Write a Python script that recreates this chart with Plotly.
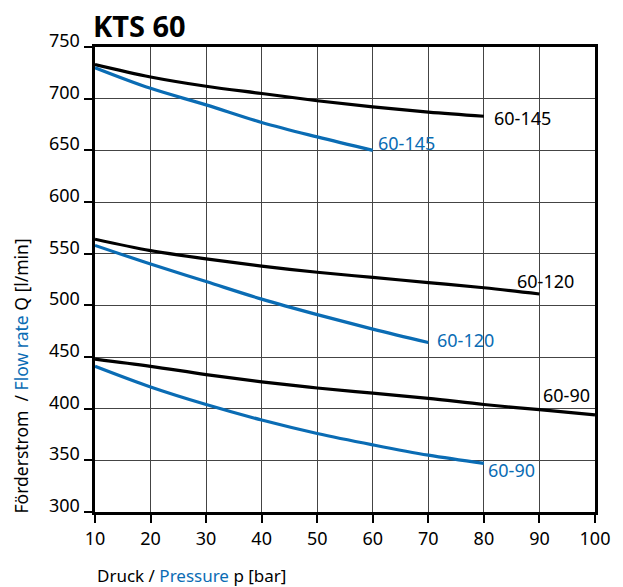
import plotly.graph_objects as go

pressure = [10, 20, 30, 40, 50, 60, 70, 80, 90, 100]
flow_ticks = [300, 350, 400, 450, 500, 550, 600, 650, 700, 750]

black_145_x = [10, 20, 30, 40, 50, 60, 70, 80]
black_145_y = [733, 721, 712, 705, 698, 692, 687, 683]
blue_145_x = [10, 20, 30, 40, 50, 60]
blue_145_y = [730, 710, 694, 677, 663, 650]

black_120_x = [10, 20, 30, 40, 50, 60, 70, 80, 90]
black_120_y = [564, 553, 545, 538, 532, 527, 522, 517, 511]
blue_120_x = [10, 20, 30, 40, 50, 60, 70]
blue_120_y = [558, 540, 523, 506, 491, 477, 464]

black_90_x = [10, 20, 30, 40, 50, 60, 70, 80, 90, 100]
black_90_y = [448, 441, 433, 426, 420, 415, 410, 404, 399, 394]
blue_90_x = [10, 20, 30, 40, 50, 60, 70, 80]
blue_90_y = [441, 421, 404, 389, 376, 365, 355, 347]

labels = [
    ("60-145", 81.4, 681, "black"),
    ("60-145", 60.6, 657, "blue"),
    ("60-120", 85.6, 524, "black"),
    ("60-120", 71.2, 466, "blue"),
    ("60-90", 90.3, 413, "black"),
    ("60-90", 80.4, 341, "blue"),
]

BLUE = "#0a6cb4"
FONT = "Noto Sans"

fig = go.Figure()
for xs, ys, c in [
    (black_145_x, black_145_y, "black"), (blue_145_x, blue_145_y, BLUE),
    (black_120_x, black_120_y, "black"), (blue_120_x, blue_120_y, BLUE),
    (black_90_x, black_90_y, "black"), (blue_90_x, blue_90_y, BLUE),
]:
    fig.add_trace(go.Scatter(x=xs, y=ys, mode="lines",
                             line=dict(color=c, width=3.2, shape="spline", smoothing=1.0),
                             showlegend=False, hoverinfo="skip"))

for txt, x, y, c in labels:
    fig.add_annotation(x=x, y=y, text=txt, showarrow=False, xanchor="left", yanchor="middle",
                       font=dict(family=FONT, size=18, color="black" if c == "black" else BLUE))

# y tick labels, drawn slightly above their gridlines as in the original
for v in flow_ticks:
    fig.add_annotation(xref="paper", x=0, xshift=-13, y=v, yshift=7, text=str(v),
                       showarrow=False, xanchor="right", yanchor="middle",
                       font=dict(family=FONT, size=18, color="black"))

fig.add_annotation(xref="paper", yref="paper", x=0, xshift=-4, y=1.0, yshift=0, text="<b>KTS 60</b>",
                   showarrow=False, xanchor="left", yanchor="bottom",
                   font=dict(family=FONT, size=29, color="black"))
fig.add_annotation(xref="paper", yref="paper", x=0, y=0, yshift=-50,
                   text=f"Druck / <span style='color:{BLUE}'>Pressure</span> p [bar]",
                   showarrow=False, xanchor="left", yanchor="top",
                   font=dict(family=FONT, size=17, color="black"))
fig.add_annotation(xref="paper", yref="paper", x=0, xshift=-89, y=0, yshift=-4,
                   text=f"Förderstrom  / <span style='color:{BLUE}'>Flow rate</span> Q [l/min]",
                   textangle=-90, showarrow=False, xanchor="left", yanchor="bottom",
                   font=dict(family=FONT, size=17.5, color="black"))

axis_common = dict(showline=True, linecolor="black", linewidth=3, mirror=True,
                   showgrid=True, gridcolor="#444444", gridwidth=1,
                   ticks="outside", ticklen=8, tickwidth=2, tickcolor="black",
                   tickfont=dict(family=FONT, size=18, color="black"), zeroline=False)

fig.update_xaxes(range=[10, 100], tickvals=pressure, **axis_common)
fig.update_yaxes(range=[300, 750], tickvals=flow_ticks, showticklabels=False, **axis_common)

fig.update_layout(width=623, height=587, margin=dict(l=95, r=28, t=47, b=75),
                  paper_bgcolor="white", plot_bgcolor="white")

fig.write_html("out.html")
